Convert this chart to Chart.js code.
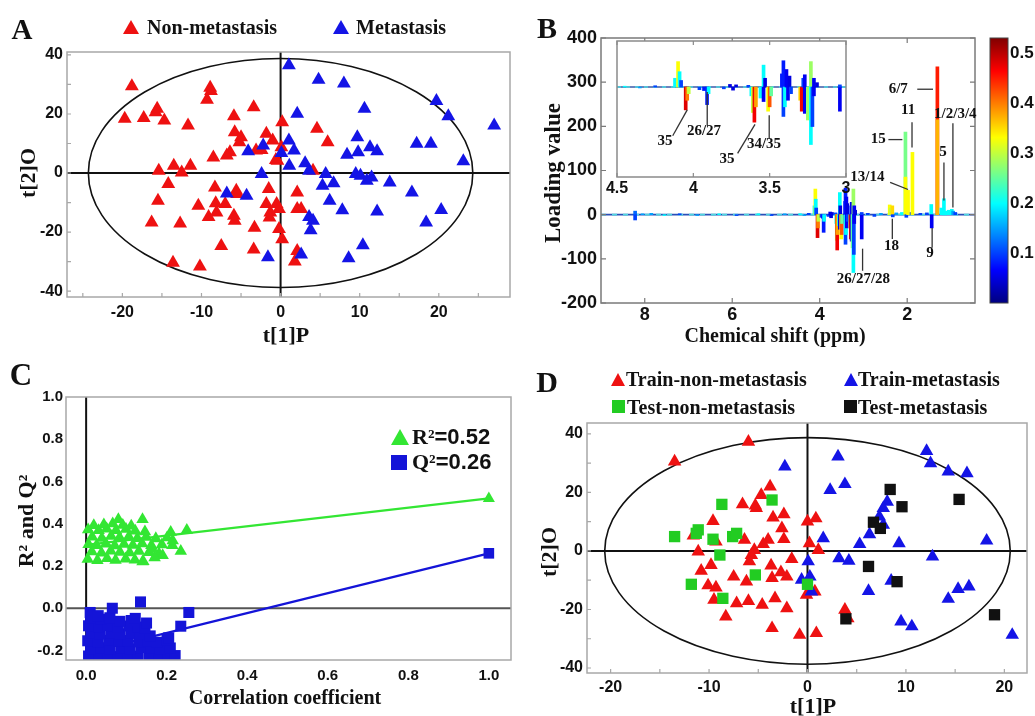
<!DOCTYPE html>
<html><head><meta charset="utf-8">
<script src="https://cdn.jsdelivr.net/npm/chart.js@4.4.1/dist/chart.umd.min.js"></script>
<style>
body{margin:0;background:#fff;}
#wrap{position:relative;width:1035px;height:716px;overflow:hidden;background:#fff;}
canvas{position:absolute;}
.t{position:absolute;font-family:"Liberation Serif","Times New Roman",serif;font-weight:bold;color:#111;white-space:nowrap;line-height:1;}
.c{transform:translate(-50%,-50%);}
.r{transform:translate(-50%,-50%) rotate(-90deg);}
.l{transform:translateY(-50%);}
.tri{position:absolute;width:0;height:0;border-left:8px solid transparent;border-right:8px solid transparent;}
.sq{position:absolute;}
.sans{font-family:"Liberation Sans",Arial,sans-serif;}
</style></head><body><div id="wrap">
<canvas id="cA" width="520" height="345" style="left:0;top:0"></canvas>
<canvas id="cB" width="515" height="345" style="left:520px;top:0"></canvas>
<canvas id="cBin" width="265" height="170" style="left:595px;top:35px"></canvas>
<canvas id="cBar" width="50" height="303" style="left:985px;top:20px"></canvas>
<canvas id="cC" width="520" height="356" style="left:0;top:360px"></canvas>
<canvas id="cD" width="515" height="356" style="left:520px;top:360px"></canvas>

<div class="t c" style="left:22px;top:29px;font-size:29px">A</div>
<div class="t c" style="left:547px;top:28px;font-size:30px">B</div>
<div class="t c" style="left:21px;top:374px;font-size:31px">C</div>
<div class="t c" style="left:547px;top:382px;font-size:30px">D</div>

<div class="tri" style="left:123px;top:20px;border-bottom:14px solid #ee1111"></div>
<div class="t l" style="left:147px;top:27px;font-size:20px">Non-metastasis</div>
<div class="tri" style="left:333px;top:20px;border-bottom:14px solid #1414e6"></div>
<div class="t l" style="left:356px;top:27px;font-size:20px">Metastasis</div>
<div class="t c" style="left:286px;top:335px;font-size:22px">t[1]P</div>
<div class="t r" style="left:28px;top:173px;font-size:22px">t[2]O</div>

<div class="t r" style="left:552px;top:173px;font-size:23px">Loading value</div>
<div class="t c" style="left:775px;top:335px;font-size:20px">Chemical shift (ppm)</div>

<div class="t r" style="left:26px;top:521px;font-size:22px">R² and Q²</div>
<div class="t c" style="left:285px;top:697px;font-size:20px">Correlation coefficient</div>
<div class="tri" style="left:391px;top:429px;border-left-width:9px;border-right-width:9px;border-bottom:16px solid #33e633"></div>
<div class="t l" style="left:412px;top:437px;font-size:22px">R²<span class="sans">=0.52</span></div>
<div class="sq" style="left:391px;top:455px;width:16px;height:15px;background:#1414d8"></div>
<div class="t l" style="left:412px;top:462px;font-size:22px">Q²<span class="sans">=0.26</span></div>

<div class="tri" style="left:611px;top:373px;border-left-width:7px;border-right-width:7px;border-bottom:13px solid #ee1111"></div>
<div class="t l" style="left:626px;top:379px;font-size:20px">Train-non-metastasis</div>
<div class="tri" style="left:844px;top:373px;border-left-width:7px;border-right-width:7px;border-bottom:13px solid #1414e6"></div>
<div class="t l" style="left:858px;top:379px;font-size:20px">Train-metastasis</div>
<div class="sq" style="left:612px;top:400px;width:13px;height:13px;background:#22cc22"></div>
<div class="t l" style="left:627px;top:407px;font-size:20px">Test-non-metastasis</div>
<div class="sq" style="left:844px;top:400px;width:13px;height:13px;background:#111"></div>
<div class="t l" style="left:858px;top:407px;font-size:20px">Test-metastasis</div>
<div class="t r" style="left:549px;top:552px;font-size:22px">t[2]O</div>
<div class="t c" style="left:813px;top:706px;font-size:22px">t[1]P</div>
</div>
<script>
// ---------------- DATA ----------------
// Panel A : OPLS-DA scores [t[1]P, t[2]O]
const aNonMet = [[-18.8,29.4],[-19.7,18.4],[-17.3,18.6],[-15.8,20.6],[-15.6,21.8],[-14.7,17.8],[-11.7,16.1],[-8.9,28.9],[-8.8,27.8],[-9.3,24.8],[-3.4,22.3],[-5.9,19.2],[0.2,17.2],[4.6,15.0],[5.95,10.4],[-5.8,13.8],[-5.0,12.1],[-5.2,10.4],[-1.8,13.3],[-1.0,11.0],[-6.4,7.0],[-8.5,5.3],[-6.8,5.9],[-2.4,7.8],[-0.4,4.2],[0.1,8.7],[-15.4,0.8],[-13.5,2.5],[-12.5,0.2],[-11.4,2.5],[-14.2,-3.7],[-15.5,-9.4],[-16.3,-16.8],[-12.7,-17.1],[-10.4,-11.1],[-8.3,-4.9],[-8.2,-10.2],[-9.1,-14.9],[-8.1,-13.4],[-7.0,-10.5],[-5.9,-14.5],[-5.8,-16.2],[-5.6,-6.0],[-5.5,-7.1],[-7.5,-24.7],[-3.3,-18.5],[-3.4,-25.9],[-13.6,-30.4],[-10.2,-31.7],[-1.5,-5.4],[-1.8,-10.5],[-1.3,-13.4],[-1.4,-15.1],[-0.5,-10.5],[-0.2,-12.2],[-0.2,-19.0],[0.2,-22.4],[2.1,-6.6],[2.1,-12.2],[2.6,-12.2],[2.1,-26.4],[1.8,-30.0],[4.1,0.8],[-0.6,4.4],[-3.1,7.6]];
const aMet = [[1.05,36.5],[4.8,31.6],[8.0,30.3],[2.1,20.1],[10.6,21.8],[19.7,24.4],[21.2,19.2],[27.0,16.1],[17.2,9.9],[19.0,9.9],[23.1,4.0],[9.7,12.1],[11.3,8.7],[12.2,7.4],[8.4,6.2],[9.8,7.0],[1.05,11.0],[1.7,7.6],[0.1,6.8],[1.1,2.5],[3.1,3.3],[3.6,0.8],[5.7,-0.3],[5.3,-4.3],[6.7,-3.5],[9.5,-0.3],[10.1,-0.9],[10.9,-2.6],[11.5,-1.5],[13.8,-3.2],[16.6,-6.6],[20.3,-12.5],[18.4,-16.8],[12.2,-13.0],[7.8,-12.6],[6.2,-9.4],[3.6,-14.9],[4.1,-16.2],[3.8,-19.4],[10.4,-24.5],[8.6,-28.9],[2.6,-27.6],[-1.6,-28.5],[-2.4,-0.3],[-2.2,9.3],[-4.1,7.4],[-6.8,-6.9],[-4.3,-7.7]];
const aEllipse = [24.3, 38.8];          // Hotelling T2 semi-axes
const aXTicks = [-20,-10,0,10,20];
const aYTicks = [-40,-20,0,20,40];

// Panel B : loading plot  [chemical shift ppm, loading value, |correlation|]
const bPeaks = [
 [8.22,8,0.12],[8.22,-12,0.10],[8.05,2,0.15],[7.85,3,0.15],[7.55,-2,0.2],[7.2,2,0.1],[6.8,-2,0.15],[6.3,2,0.2],[5.9,-2,0.1],[5.4,2,0.2],[5.1,-2,0.1],[4.8,2,0.15],
 [4.45,2,0.2],[4.35,-2,0.15],[4.25,3,0.1],
 [4.12,20,0.2],[4.10,58,0.33],[4.09,35,0.2],[4.08,15,0.1],
 [4.05,-52,0.48],[4.04,-30,0.40],[4.03,-15,0.3],
 [3.96,-6,0.1],[3.93,-8,0.08],[3.91,-40,0.08],[3.90,-15,0.2],
 [3.80,-4,0.1],[3.76,6,0.05],[3.74,-7,0.05],[3.72,5,0.05],
 [3.64,4,0.1],[3.62,-20,0.2],[3.61,-58,0.30],[3.60,-80,0.47],[3.59,-45,0.38],[3.56,-25,0.2],
 [3.54,50,0.2],[3.54,-33,0.06],[3.53,20,0.05],
 [3.51,-55,0.33],[3.50,-45,0.42],[3.49,-20,0.25],
 [3.42,30,0.08],[3.41,60,0.08],[3.41,-67,0.10],[3.40,-45,0.2],[3.39,40,0.06],[3.38,-30,0.06],[3.37,25,0.05],[3.36,-15,0.1],
 [3.30,-30,0.35],[3.29,-55,0.47],[3.28,20,0.1],[3.27,28,0.06],[3.27,-60,0.06],[3.25,-75,0.28],
 [3.23,58,0.28],[3.23,-131,0.2],[3.22,-90,0.1],[3.21,20,0.06],[3.21,-20,0.06],[3.19,10,0.05],
 [3.04,-55,0.06],[3.04,5,0.1],
 [2.90,3,0.1],[2.75,-4,0.1],[2.60,3,0.15],
 [2.40,22,0.33],[2.38,15,0.30],[2.34,20,0.35],[2.33,-5,0.1],[2.25,4,0.15],
 [2.12,5,0.2],[2.04,187,0.26],[2.04,85,0.33],[2.02,-6,0.1],[1.98,55,0.33],
 [1.90,5,0.1],[1.88,141,0.33],
 [1.70,3,0.1],[1.55,4,0.1],
 [1.45,23,0.2],[1.44,-30,0.06],
 [1.31,335,0.45],[1.31,215,0.37],
 [1.22,15,0.2],[1.16,36,0.2],[1.10,8,0.2],[1.05,10,0.2],[0.98,12,0.2],[0.95,8,0.15],[0.90,5,0.1]
];
const bRange = [9, 0.45];
const bXTicks = [2,4,6,8];
const bYTicks = [-200,-100,0,100,200,300,400];
const bInsetRange = [4.5, 3];
const bInsetTicks = [3,3.5,4,4.5];
const bCorrRange = [0, 0.53];
const bCorrTicks = [0.1,0.2,0.3,0.4,0.5];
// peak assignments: [text, ppm, loading, leader line ppm1, val1, ppm2, val2]
const bMainLabels = [
 ['6/7',2.205,284,1.77,284,1.41,284],
 ['11',1.98,236,1.89,209,1.89,152],
 ['1/2/3/4',0.9,227,0.955,207,0.955,16],
 ['15',2.66,171,2.43,170,2.11,170],
 ['5',1.18,141,1.16,118,1.16,32],
 ['13/14',2.91,84,2.39,73,1.98,57],
 ['18',2.36,-71,2.34,-9,2.34,-55],
 ['9',1.48,-86,1.43,-30,1.43,-75],
 ['26/27/28',3.0,-146,3.02,-77,3.02,-127]
];
const bInsetLabels = [
 ['35',4.186,-123,4.135,-111,4.04,-52],
 ['26/27',3.93,-100,3.909,-87,3.909,-11],
 ['35',3.78,-164,3.71,-151,3.596,-85],
 ['34/35',3.537,-130,3.503,-116,3.503,-64]
];

// Panel C : permutation test [correlation coefficient, value]
const cR2Perm = [
 [0.004,0.232],[0.028,0.226],[0.052,0.236],[0.073,0.228],[0.098,0.234],[0.121,0.229],[0.142,0.222],
 [0.014,0.268],[0.038,0.262],[0.061,0.271],[0.084,0.266],[0.108,0.263],[0.131,0.270],[0.156,0.264],[0.181,0.258],
 [0.006,0.302],[0.026,0.298],[0.049,0.305],[0.071,0.296],[0.094,0.303],[0.116,0.299],[0.139,0.306],[0.162,0.297],[0.188,0.301],[0.214,0.298],
 [0.015,0.338],[0.039,0.332],[0.062,0.341],[0.083,0.335],[0.106,0.339],[0.127,0.331],[0.149,0.337],[0.173,0.330],[0.201,0.334],
 [0.005,0.372],[0.031,0.368],[0.051,0.376],[0.074,0.369],[0.099,0.374],[0.122,0.366],[0.146,0.362],
 [0.019,0.392],[0.044,0.396],[0.066,0.400],[0.091,0.393],[0.112,0.390],
 [0.08,0.42],[0.14,0.42],[0.21,0.36],[0.25,0.37],[0.235,0.27],[0.14,0.22],[0.19,0.25],[0.17,0.24],[0.215,0.32],[0.165,0.28]];
const cQ2Perm = [
 [0.006,-0.226],[0.031,-0.228],[0.054,-0.224],[0.079,-0.229],[0.104,-0.225],[0.129,-0.227],[0.156,-0.223],[0.181,-0.228],[0.204,-0.226],[0.221,-0.224],
 [0.011,-0.191],[0.036,-0.187],[0.059,-0.193],[0.086,-0.189],[0.109,-0.192],[0.136,-0.186],[0.161,-0.190],[0.184,-0.194],[0.209,-0.188],
 [0.004,-0.154],[0.029,-0.158],[0.056,-0.152],[0.081,-0.157],[0.104,-0.153],[0.131,-0.159],[0.154,-0.156],[0.176,-0.161],[0.201,-0.151],
 [0.012,-0.118],[0.034,-0.122],[0.061,-0.117],[0.084,-0.121],[0.111,-0.119],[0.134,-0.124],[0.159,-0.131],
 [0.006,-0.083],[0.031,-0.087],[0.054,-0.082],[0.079,-0.088],[0.106,-0.084],[0.128,-0.089],[0.146,-0.094],
 [0.011,-0.048],[0.036,-0.052],[0.059,-0.045],[0.084,-0.062],[0.112,-0.058],
 [0.01,-0.02],[0.065,0.0],[0.135,0.03],[0.255,-0.02],[0.235,-0.085],[0.205,-0.14],[0.15,-0.07],[0.122,-0.048],[0.03,-0.035]];
const cR2Model = [[1.0,0.52]];
const cQ2Model = [[1.0,0.26]];
const cR2Line = [[0,0.30],[1.0,0.52]];
const cQ2Line = [[0,-0.211],[1.0,0.26]];
const cXTicks = [0,0.2,0.4,0.6,0.8,1.0];
const cYTicks = [-0.2,0,0.2,0.4,0.6,0.8,1.0];

// Panel D : training / test scores
const dTrainNon = [[-13.5,30.5],[-6.0,37.3],[-11.6,5.2],[-11.1,-0.2],[-9.6,10.2],[-9.3,3.2],[-10.8,-6.8],[-9.8,-4.8],[-10.1,-11.8],[-9.3,-12.5],[-9.5,-16.7],[-8.3,-22.4],[-7.5,-8.8],[-7.2,-17.9],[-6.0,-17.1],[-4.6,-18.4],[-6.2,-10.5],[-6.4,3.8],[-6.6,15.9],[-5.2,14.6],[-4.7,19.1],[-3.8,22.0],[-5.3,15.5],[-3.5,11.4],[-2.4,12.5],[-2.6,7.7],[-2.4,4.0],[-4.0,3.8],[-4.5,2.3],[-5.4,0.3],[-5.7,-1.4],[-5.9,-3.6],[-3.7,-5.0],[-3.6,-9.3],[-3.3,-16.2],[-3.6,-26.4],[-2.7,-7.3],[-2.1,-8.8],[-2.1,-19.6],[-1.6,-2.8],[-0.8,-28.7],[0.9,-28.1],[0.0,10.0],[0.85,11.1],[0.2,2.6],[1.1,0.3],[-0.1,-15.0],[0.75,-13.9],[3.8,-20.1],[4.1,-23.0]];
const dTrainMet = [[-2.3,28.8],[3.1,32.2],[3.8,22.8],[2.3,20.8],[12.1,34.1],[12.5,29.9],[14.3,27.1],[16.2,26.5],[18.2,3.5],[12.7,-1.9],[8.1,16.8],[7.7,14.6],[7.3,11.7],[7.7,8.9],[6.3,5.7],[5.3,2.3],[1.6,4.3],[9.3,2.6],[3.2,-2.5],[4.2,-3.4],[0.07,-3.6],[0.24,-8.8],[-0.6,-9.9],[0.4,-13.9],[6.2,-13.7],[8.5,-10.2],[15.3,-13.0],[16.4,-12.2],[14.3,-16.4],[9.5,-24.1],[10.6,-25.8],[20.8,-28.7]];
const dTestNon = [[-13.5,4.9],[-11.1,7.2],[-11.3,6.0],[-9.6,4.0],[-8.7,15.9],[-8.9,-1.4],[-7.6,4.9],[-7.2,6.0],[-3.6,17.4],[-5.3,-8.2],[-11.8,-11.4],[-8.6,-16.2],[0.0,-11.4]];
const dTestMet = [[8.4,21.0],[9.6,15.1],[15.4,17.6],[6.7,9.8],[7.4,7.7],[6.2,-5.3],[9.1,-10.5],[3.9,-23.2],[19.0,-21.8]];
const dEllipse = [20.6, 38.7];
const dXTicks = [-20,-10,0,10,20];
const dYTicks = [-40,-20,0,20,40];

// ---------------- HELPERS ----------------
const RED='#ee1111', BLUE='#1414e6', GREEN='#33e633', DBLUE='#1414d8', DGREEN='#22cc22';
const TICKFONT = (s)=>({family:'"Liberation Sans", Arial, sans-serif', weight:'bold', size:s});
const pts = arr => arr.map(([x,y])=>({x,y}));
function jet(t){t=Math.max(0,Math.min(1,t));const f=v=>Math.round(255*Math.max(0,Math.min(1,v)));
  return 'rgb('+f(1.5-Math.abs(4*t-3))+','+f(1.5-Math.abs(4*t-2))+','+f(1.5-Math.abs(4*t-1))+')';}
const corrColor = c => jet((c-bCorrRange[0])/(bCorrRange[1]-bCorrRange[0]));
const setTicks = arr => (s)=>{ s.ticks = arr.map(v=>({value:v})); };

function makeDecor(cfg){
  return {
    id:'decor',
    beforeDatasetsDraw(chart){
      const {ctx, chartArea:a, scales} = chart; const x=scales.x, y=scales.y;
      ctx.save();
      if(cfg.bg){ctx.fillStyle=cfg.bg;ctx.fillRect(a.left,a.top,a.width,a.height);}
      if(cfg.zero){
        ctx.lineWidth=cfg.zeroWidth||2;
        if(cfg.zero.includes('v')){ctx.strokeStyle=cfg.zeroV||'#111';const px=x.getPixelForValue(0);ctx.beginPath();ctx.moveTo(px,a.top);ctx.lineTo(px,a.bottom);ctx.stroke();}
        if(cfg.zero.includes('h')){ctx.strokeStyle=cfg.zeroH||'#111';const py=y.getPixelForValue(0);ctx.beginPath();ctx.moveTo(a.left,py);ctx.lineTo(a.right,py);ctx.stroke();}
      }
      if(cfg.ellipse){
        const cx=x.getPixelForValue(0), cy=y.getPixelForValue(0);
        const rx=Math.abs(x.getPixelForValue(cfg.ellipse[0])-cx), ry=Math.abs(y.getPixelForValue(cfg.ellipse[1])-cy);
        ctx.strokeStyle='#111';ctx.lineWidth=1.6;ctx.beginPath();ctx.ellipse(cx,cy,rx,ry,0,0,Math.PI*2);ctx.stroke();
      }
      ctx.restore();
    },
    afterDatasetsDraw(chart){
      const {ctx, chartArea:a, scales} = chart; const x=scales.x, y=scales.y;
      ctx.save();
      if(cfg.frame){ctx.strokeStyle=cfg.frame;ctx.lineWidth=cfg.frameWidth||1.5;ctx.strokeRect(a.left,a.top,a.width,a.height);}
      if(cfg.ticksIn){
        const L=cfg.ticksIn; ctx.strokeStyle=cfg.frame||'#777'; ctx.lineWidth=1.2; ctx.beginPath();
        if(cfg.ticksX!==false) x.ticks.forEach(t=>{const p=x.getPixelForValue(t.value);
          if(cfg.sides.includes('b')){ctx.moveTo(p,a.bottom);ctx.lineTo(p,a.bottom-L);}
          if(cfg.sides.includes('t')){ctx.moveTo(p,a.top);ctx.lineTo(p,a.top+L);} });
        if(cfg.ticksY!==false && y.options.display!==false) y.ticks.forEach(t=>{const p=y.getPixelForValue(t.value);
          if(cfg.sides.includes('l')){ctx.moveTo(a.left,p);ctx.lineTo(a.left+L,p);}
          if(cfg.sides.includes('r')){ctx.moveTo(a.right,p);ctx.lineTo(a.right-L,p);} });
        ctx.stroke();
      }
      if(cfg.minor){
        const [sx,sy,L]=cfg.minor; ctx.strokeStyle=cfg.frame||'#999'; ctx.lineWidth=1.2; ctx.beginPath();
        for(let v=Math.ceil(x.min/sx)*sx; v<=x.max; v+=sx){const p=x.getPixelForValue(v);ctx.moveTo(p,a.bottom);ctx.lineTo(p,a.bottom-L);}
        for(let v=Math.ceil(y.min/sy)*sy; v<=y.max; v+=sy){const p=y.getPixelForValue(v);ctx.moveTo(a.left,p);ctx.lineTo(a.left+L,p);}
        ctx.stroke();
      }
      if(cfg.labels){
        ctx.font='bold 15px "Liberation Serif", "Times New Roman", serif';
        ctx.textAlign='center';ctx.textBaseline='middle';
        cfg.labels.forEach(([txt,tx,ty,x1,y1,x2,y2])=>{
          ctx.strokeStyle='#333';ctx.lineWidth=1.3;ctx.beginPath();
          ctx.moveTo(x.getPixelForValue(x1),y.getPixelForValue(y1));ctx.lineTo(x.getPixelForValue(x2),y.getPixelForValue(y2));ctx.stroke();
          ctx.fillStyle='#111';ctx.fillText(txt,x.getPixelForValue(tx),y.getPixelForValue(ty));
        });
      }
      ctx.restore();
    }
  };
}
const base = (pad)=>({responsive:false, animation:false, devicePixelRatio:1, layout:{padding:pad},
  plugins:{legend:{display:false}, tooltip:{enabled:false}}});
function axis(o){
  return Object.assign({type:'linear', grid:{display:false, drawTicks:false}, border:{display:false}}, o);
}

// ---------------- PANEL A ----------------
new Chart(document.getElementById('cA'), {
  type:'scatter',
  data:{datasets:[
    {data:pts(aNonMet), pointStyle:'triangle', pointRadius:8, backgroundColor:RED, borderColor:RED, borderWidth:0, order:2},
    {data:pts(aMet), pointStyle:'triangle', pointRadius:8, backgroundColor:BLUE, borderColor:BLUE, borderWidth:0, order:1}
  ]},
  options:Object.assign(base({top:52,right:10,left:0,bottom:0}),{
    scales:{
      x:axis({min:-27,max:29, afterBuildTicks:setTicks(aXTicks), afterFit:s=>{s.height=48;},
        ticks:{font:TICKFONT(16), color:'#111', padding:6, callback:v=>String(v)}}),
      y:axis({min:-42,max:41, afterBuildTicks:setTicks(aYTicks), afterFit:s=>{s.width=67;},
        ticks:{font:TICKFONT(16), color:'#111', padding:4, callback:v=>String(v)}})
    }}),
  plugins:[makeDecor({frame:'#a8a8a8', zero:'vh', ellipse:aEllipse, minor:[5,10,4]})]
});

// ---------------- PANEL B (main) ----------------
const bBars = bPeaks.map(([p,v])=>({x:p,y:v}));
const bCols = bPeaks.map(p=>corrColor(p[2]));
const bBase = [{x:bRange[0],y:0},{x:bRange[1],y:0}];
new Chart(document.getElementById('cB'), {
  type:'bar',
  data:{datasets:[
    {type:'bar', data:bBars, backgroundColor:bCols, borderWidth:0, barThickness:3, grouped:false, order:0},
    {type:'line', data:bBase, borderColor:'#4fd6e0', borderWidth:1.6, borderDash:[5,6], pointRadius:0, order:1},
    {type:'line', data:bBase, borderColor:'#2a4fb8', borderWidth:1.6, pointRadius:0, order:2}
  ]},
  options:Object.assign(base({top:38,right:60,left:0,bottom:0}),{
    scales:{
      x:axis({min:bRange[1],max:bRange[0],reverse:true,offset:false, afterBuildTicks:setTicks(bXTicks), afterFit:s=>{s.height=42;},
        ticks:{font:TICKFONT(18), color:'#111', padding:1, callback:v=>String(v)}}),
      y:axis({min:-200,max:400, afterBuildTicks:setTicks(bYTicks), afterFit:s=>{s.width=81;},
        ticks:{font:TICKFONT(18), color:'#111', padding:4, callback:v=>String(v)}})
    }}),
  plugins:[makeDecor({frame:'#7a7a7a', ticksIn:5, sides:'btlr', labels:bMainLabels})]
});

// ---------------- PANEL B (inset) ----------------
const inPeaks = bPeaks.filter(p=>p[0]<=bInsetRange[0] && p[0]>=bInsetRange[1]);
const inBase = [{x:bInsetRange[0],y:0},{x:bInsetRange[1],y:0}];
new Chart(document.getElementById('cBin'), {
  type:'bar',
  data:{datasets:[
    {type:'bar', data:inPeaks.map(([p,v])=>({x:p,y:v})), backgroundColor:inPeaks.map(p=>corrColor(p[2])), borderWidth:0, barThickness:3, grouped:false, order:0},
    {type:'line', data:inBase, borderColor:'#4fd6e0', borderWidth:1.6, borderDash:[4,5], pointRadius:0, order:1},
    {type:'line', data:inBase, borderColor:'#3a5aa8', borderWidth:1.6, pointRadius:0, order:2}
  ]},
  options:Object.assign(base({top:6,right:14,left:22,bottom:0}),{
    scales:{
      x:axis({min:bInsetRange[1],max:bInsetRange[0],reverse:true,offset:false, afterBuildTicks:setTicks(bInsetTicks), afterFit:s=>{s.height=28;},
        ticks:{font:TICKFONT(16), color:'#111', padding:2, callback:v=>String(v)}}),
      y:axis({min:-205,max:105, display:false})
    }}),
  plugins:[makeDecor({bg:'#ffffff', frame:'#8a8a8a', ticksIn:4, sides:'bt', ticksY:false, labels:bInsetLabels})]
});

// ---------------- PANEL B (colour bar) ----------------
new Chart(document.getElementById('cBar'), {
  type:'bar',
  data:{labels:['r'], datasets:[{data:[[bCorrRange[0],bCorrRange[1]]], borderWidth:0, barPercentage:1, categoryPercentage:1,
    backgroundColor:(c)=>{const a=c.chart.chartArea; if(!a) return '#000';
      const g=c.chart.ctx.createLinearGradient(0,a.bottom,0,a.top);
      for(let i=0;i<=16;i++) g.addColorStop(i/16, jet(i/16));
      return g;}}]},
  options:Object.assign(base({top:18,right:0,left:5,bottom:20}),{
    scales:{
      x:{display:false},
      y:axis({position:'right', min:bCorrRange[0], max:bCorrRange[1], afterBuildTicks:setTicks(bCorrTicks), afterFit:s=>{s.width=27;},
        ticks:{font:TICKFONT(17), color:'#111', padding:2, callback:v=>v.toFixed(1)}})
    }}),
  plugins:[makeDecor({frame:'#444', frameWidth:1})]
});

// ---------------- PANEL C ----------------
new Chart(document.getElementById('cC'), {
  type:'scatter',
  data:{datasets:[
    {data:pts(cR2Perm), pointStyle:'triangle', pointRadius:7.2, backgroundColor:GREEN, borderWidth:0, order:1},
    {data:pts(cQ2Perm), pointStyle:'rect', pointRadius:7.8, backgroundColor:DBLUE, borderWidth:0, order:2},
    {data:pts(cR2Model), pointStyle:'triangle', pointRadius:7, backgroundColor:GREEN, borderWidth:0, order:0},
    {data:pts(cQ2Model), pointStyle:'rect', pointRadius:7.5, backgroundColor:DBLUE, borderWidth:0, order:0},
    {data:pts(cR2Line), showLine:true, borderColor:GREEN, borderWidth:2.2, pointRadius:0, order:3},
    {data:pts(cQ2Line), showLine:true, borderColor:DBLUE, borderWidth:2.2, pointRadius:0, order:4}
  ]},
  options:Object.assign(base({top:37,right:9,left:0,bottom:0}),{
    scales:{
      x:axis({min:-0.05,max:1.055, afterBuildTicks:setTicks(cXTicks), afterFit:s=>{s.height=56;},
        ticks:{font:TICKFONT(15), color:'#111', padding:7, callback:v=>v.toFixed(1)}}),
      y:axis({min:-0.245,max:1.0, afterBuildTicks:setTicks(cYTicks), afterFit:s=>{s.width=66;},
        ticks:{font:TICKFONT(15), color:'#111', padding:3, callback:v=>v.toFixed(1)}})
    }}),
  plugins:[makeDecor({frame:'#a8a8a8', zero:'vh', zeroV:'#111', zeroH:'#555'})]
});

// ---------------- PANEL D ----------------
new Chart(document.getElementById('cD'), {
  type:'scatter',
  data:{datasets:[
    {data:pts(dTrainNon), pointStyle:'triangle', pointRadius:7.8, backgroundColor:RED, borderWidth:0, order:3},
    {data:pts(dTrainMet), pointStyle:'triangle', pointRadius:7.8, backgroundColor:BLUE, borderWidth:0, order:2},
    {data:pts(dTestNon), pointStyle:'rect', pointRadius:8, backgroundColor:DGREEN, borderWidth:0, order:1},
    {data:pts(dTestMet), pointStyle:'rect', pointRadius:8, backgroundColor:'#111', borderWidth:0, order:0}
  ]},
  options:Object.assign(base({top:63,right:1,left:0,bottom:0}),{
    scales:{
      x:axis({min:-22.4,max:22.3, afterBuildTicks:setTicks(dXTicks), afterFit:s=>{s.height=43;},
        ticks:{font:TICKFONT(16), color:'#111', padding:5, callback:v=>String(v)}}),
      y:axis({min:-41.7,max:43.7, afterBuildTicks:setTicks(dYTicks), afterFit:s=>{s.width=67;},
        ticks:{font:TICKFONT(16), color:'#111', padding:4, callback:v=>String(v)}})
    }}),
  plugins:[makeDecor({frame:'#a8a8a8', zero:'vh', ellipse:dEllipse, minor:[5,10,4]})]
});
</script>
</body></html>
